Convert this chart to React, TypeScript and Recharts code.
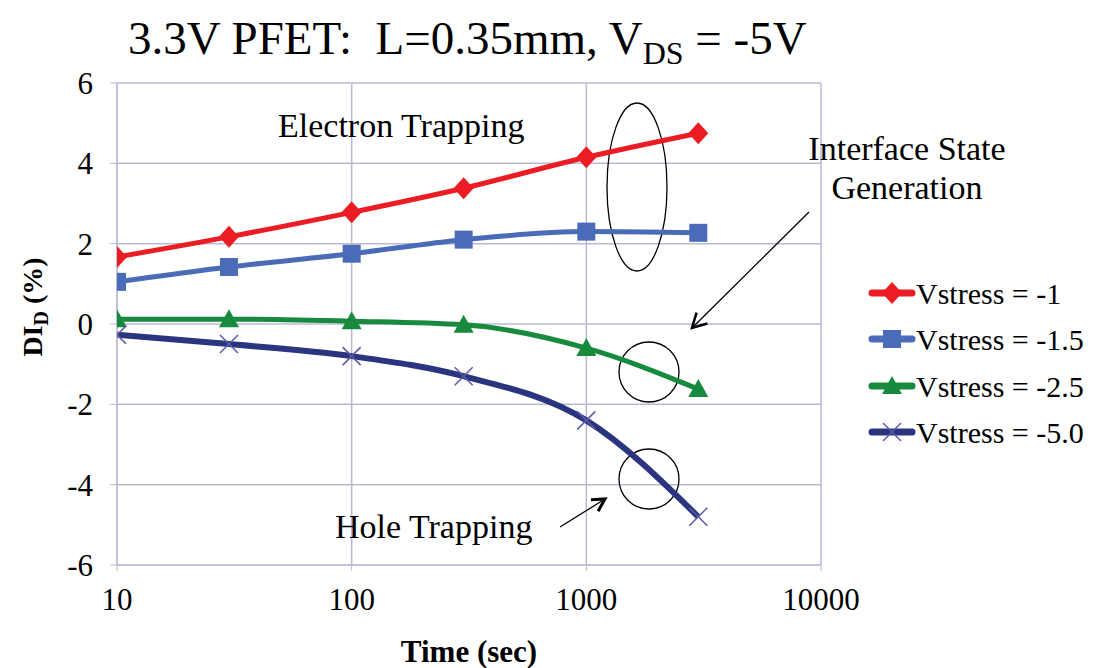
import React from 'react';
import {
  LineChart, Line, XAxis, YAxis, CartesianGrid, Customized,
} from 'recharts';

// stress times (sec) and drain current shift (%) per stress voltage
const times = [10, 30, 100, 300, 1000, 3000];
const vs1 = [1.67, 2.17, 2.78, 3.38, 4.15, 4.75];
const vs15 = [1.05, 1.42, 1.75, 2.1, 2.3, 2.27];
const vs25 = [0.12, 0.12, 0.07, -0.02, -0.6, -1.62];
const vs50 = [-0.27, -0.5, -0.8, -1.3, -2.4, -4.8];

const xTicks = [10, 100, 1000, 10000];
const yTicks = [-6, -4, -2, 0, 2, 4, 6];

const data = times.map((t, i) => ({
  t,
  vs1: vs1[i],
  vs15: vs15[i],
  vs25: vs25[i],
  vs50: vs50[i],
}));

const FONT = '"Liberation Serif", "Times New Roman", serif';
const GRID = '#b9b9d6';

const RED = '#ec1c24';
const BLUE = '#4a6cb8';
const GREEN = '#188a3e';
const NAVY = '#2b347e';

const Diamond = ({ cx, cy, color = RED }: any) =>
  cx == null ? null : (
    <path d={`M${cx},${cy - 11} L${cx + 10},${cy} L${cx},${cy + 11} L${cx - 10},${cy} Z`} fill={color} />
  );
const Square = ({ cx, cy, color = BLUE }: any) =>
  cx == null ? null : <rect x={cx - 9} y={cy - 9} width={18} height={18} fill={color} />;
const Triangle = ({ cx, cy, color = GREEN }: any) =>
  cx == null ? null : (
    <path d={`M${cx},${cy - 10} L${cx + 10},${cy + 8} L${cx - 10},${cy + 8} Z`} fill={color} />
  );
const Cross = ({ cx, cy }: any) =>
  cx == null ? null : (
    <g stroke="#5a5aa8" strokeWidth={1.5}>
      <line x1={cx - 9} y1={cy - 9} x2={cx + 9} y2={cy + 9} />
      <line x1={cx - 9} y1={cy + 9} x2={cx + 9} y2={cy - 9} />
    </g>
  );

const series = [
  { key: 'vs1', name: 'Vstress = -1', color: RED, dot: Diamond, width: 5 },
  { key: 'vs15', name: 'Vstress = -1.5', color: BLUE, dot: Square, width: 5 },
  { key: 'vs25', name: 'Vstress = -2.5', color: GREEN, dot: Triangle, width: 5 },
  { key: 'vs50', name: 'Vstress = -5.0', color: NAVY, dot: Cross, width: 6 },
];

const arrow = (x1: number, y1: number, x2: number, y2: number, len: number, sw: number) => {
  const a = Math.atan2(y2 - y1, x2 - x1);
  const h1 = [x2 - len * Math.cos(a - 0.5), y2 - len * Math.sin(a - 0.5)];
  const h2 = [x2 - len * Math.cos(a + 0.5), y2 - len * Math.sin(a + 0.5)];
  return (
    <g stroke="#000" fill="none">
      <line x1={x1} y1={y1} x2={x2} y2={y2} strokeWidth={1.3} />
      <polyline points={`${h1[0]},${h1[1]} ${x2},${y2} ${h2[0]},${h2[1]}`} strokeWidth={sw} />
    </g>
  );
};

// legend rows drawn at the right of the plot
const legendRows = [293, 339, 386, 432];

const Annotations = () => (
  <g fontFamily={FONT} fill="#000">
    <text x={128} y={54} fontSize={47}>
      3.3V PFET:{'\u00a0\u00a0'}L=0.35mm, V
      <tspan fontSize={32} dy={10}>DS</tspan>
      <tspan dy={-10}> = -5V</tspan>
    </text>
    <text x={278} y={137} fontSize={34}>Electron Trapping</text>
    <text x={907} y={160} fontSize={34} textAnchor="middle">Interface State</text>
    <text x={907} y={199} fontSize={34} textAnchor="middle">Generation</text>
    <text x={335} y={538} fontSize={34}>Hole Trapping</text>
    <ellipse cx={637} cy={187} rx={30} ry={84} fill="none" stroke="#000" strokeWidth={1.3} />
    <circle cx={649} cy={372} r={30} fill="none" stroke="#000" strokeWidth={1.3} />
    <circle cx={649} cy={479} r={30} fill="none" stroke="#000" strokeWidth={1.3} />
    {arrow(809, 212, 692, 328, 16, 2.5)}
    {arrow(560, 527, 605, 499, 14, 3)}
    {series.map((s, i) => {
      const Dot = s.dot;
      const y = legendRows[i];
      return (
        <g key={s.key}>
          <line x1={872} y1={y} x2={912} y2={y} stroke={s.color} strokeWidth={7} strokeLinecap="round" />
          <Dot cx={892} cy={y} color={s.color} />
          <text x={916} y={y + 11} fontSize={30}>{s.name}</text>
        </g>
      );
    })}
  </g>
);

export default function App() {
  return (
    <div style={{ position: 'absolute', left: 0, top: 0, width: 1099, height: 668, background: '#fff' }}>
      <LineChart
        width={1099}
        height={668}
        data={data}
        margin={{ top: 83, right: 278, bottom: 0, left: 0 }}
      >
        <CartesianGrid stroke={GRID} strokeWidth={1.5} verticalValues={xTicks} horizontalValues={yTicks} />
        <XAxis
          dataKey="t"
          type="number"
          scale="log"
          domain={[10, 10000]}
          ticks={xTicks}
          allowDataOverflow
          height={103}
          stroke={GRID}
          tickSize={6}
          tickMargin={17}
          tick={{ fill: '#000', fontSize: 31, fontFamily: FONT }}
          label={{
            value: 'Time (sec)',
            position: 'insideBottom',
            offset: 6,
            fill: '#000',
            fontSize: 31,
            fontWeight: 'bold',
            fontFamily: FONT,
          }}
        />
        <YAxis
          type="number"
          domain={[-6, 6]}
          ticks={yTicks}
          width={117}
          stroke={GRID}
          tickSize={7}
          tickMargin={17}
          tick={{ fill: '#000', fontSize: 31, fontFamily: FONT }}
          label={() => (
            <text
              transform="translate(42,307) rotate(-90)"
              textAnchor="middle"
              fontFamily={FONT}
              fontWeight="bold"
              fontSize={28}
              fill="#000"
            >
              DI<tspan fontSize={20} dy={6}>D</tspan>
              <tspan dy={-6}> (%)</tspan>
            </text>
          )}
        />
        {series.map((s) => {
          const Dot = s.dot;
          return (
            <Line
              key={s.key}
              dataKey={s.key}
              name={s.name}
              type="monotone"
              stroke={s.color}
              strokeWidth={s.width}
              dot={(p: any) => <Dot key={`${s.key}-${p.index}`} cx={p.cx} cy={p.cy} color={s.color} />}
              activeDot={false}
              isAnimationActive={false}
            />
          );
        })}
        <Customized component={Annotations} />
      </LineChart>
    </div>
  );
}
